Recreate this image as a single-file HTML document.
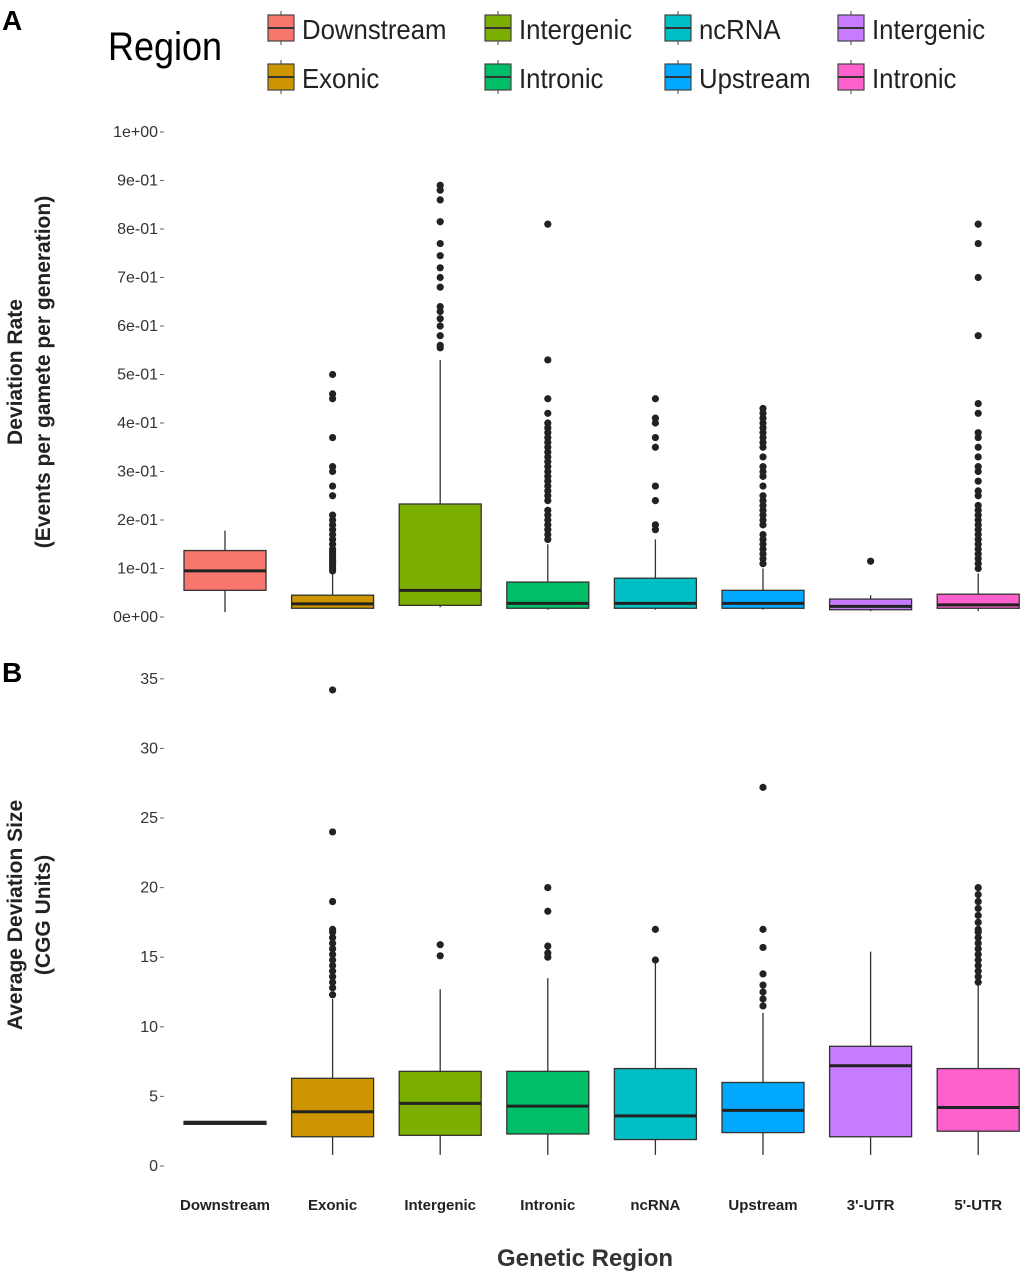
<!DOCTYPE html>
<html><head><meta charset="utf-8"><style>
body{margin:0;background:#fff;}
svg text{font-family:"Liberation Sans",sans-serif;}
</style></head><body>
<svg id="chart" width="1026" height="1280" xmlns="http://www.w3.org/2000/svg">
<text x="2" y="30" font-size="28" font-weight="bold">A</text>
<text x="2" y="682" font-size="28" font-weight="bold">B</text>
<text x="108" y="60" font-size="40" transform="translate(108,0) scale(0.9,1) translate(-108,0)">Region</text>
<g id="legend"></g>
<g id="panelA"></g>
<g id="panelB"></g>
<text transform="translate(22,372) rotate(-90)" text-anchor="middle" font-size="21" font-weight="bold" fill="#222">Deviation Rate</text>
<text transform="translate(50,372) rotate(-90)" text-anchor="middle" font-size="21" font-weight="bold" fill="#222">(Events per gamete per generation)</text>
<text transform="translate(22,915) rotate(-90)" text-anchor="middle" font-size="21" font-weight="bold" fill="#222">Average Deviation Size</text>
<text transform="translate(50,915) rotate(-90)" text-anchor="middle" font-size="21" font-weight="bold" fill="#222">(CGG Units)</text>
<text x="585" y="1266" text-anchor="middle" font-size="24" font-weight="bold" fill="#333">Genetic Region</text>
</svg>
<script>
const categories=["Downstream","Exonic","Intergenic","Intronic","ncRNA","Upstream","3'-UTR","5'-UTR"];
const colors=["#F8766D","#CD9600","#7CAE00","#00BE67","#00BFC4","#00A9FF","#C77CFF","#FF61CC"];
const legendLabels=["Downstream","Exonic","Intergenic","Intronic","ncRNA","Upstream","Intergenic","Intronic"];
// Panel A: [lo,q1,med,q3,hi]
const statsA=[[0.01,0.055,0.095,0.137,0.178],[0.018,0.018,0.027,0.045,0.09],[0.02,0.024,0.055,0.233,0.53],[0.015,0.018,0.028,0.072,0.15],[0.015,0.018,0.028,0.08,0.16],[0.015,0.018,0.028,0.055,0.10],[0.012,0.015,0.022,0.037,0.045],[0.012,0.018,0.025,0.047,0.09]];
const outA=[[],
[0.095,0.1,0.105,0.11,0.115,0.12,0.125,0.13,0.135,0.14,0.15,0.16,0.17,0.18,0.19,0.2,0.21,0.25,0.27,0.3,0.31,0.37,0.45,0.46,0.5],
[0.555,0.56,0.58,0.6,0.615,0.63,0.64,0.68,0.7,0.72,0.745,0.77,0.815,0.86,0.88,0.89],
[0.16,0.17,0.18,0.19,0.2,0.21,0.22,0.24,0.25,0.26,0.27,0.28,0.29,0.3,0.31,0.32,0.33,0.34,0.35,0.36,0.37,0.38,0.39,0.4,0.42,0.45,0.53,0.81],
[0.18,0.19,0.24,0.27,0.35,0.37,0.4,0.41,0.45],
[0.11,0.12,0.13,0.14,0.15,0.16,0.17,0.19,0.2,0.21,0.22,0.23,0.24,0.25,0.27,0.29,0.3,0.31,0.33,0.35,0.36,0.37,0.38,0.39,0.4,0.41,0.42,0.43],
[0.115],
[0.1,0.11,0.12,0.13,0.14,0.15,0.16,0.17,0.18,0.19,0.2,0.21,0.22,0.23,0.25,0.26,0.28,0.3,0.31,0.33,0.35,0.37,0.38,0.42,0.44,0.58,0.70,0.77,0.81]];
const ticksA=["0e+00","1e-01","2e-01","3e-01","4e-01","5e-01","6e-01","7e-01","8e-01","9e-01","1e+00"];
const tickValsA=[0,0.1,0.2,0.3,0.4,0.5,0.6,0.7,0.8,0.9,1.0];
// Panel B
const statsB=[[3.0,3.0,3.1,3.2,3.2],[0.8,2.1,3.9,6.3,12],[0.8,2.2,4.5,6.8,12.7],[0.8,2.3,4.3,6.8,13.5],[0.8,1.9,3.6,7.0,14.7],[0.8,2.4,4.0,6.0,11],[0.8,2.1,7.2,8.6,15.4],[0.8,2.5,4.2,7.0,13]];
const outB=[[],
[12.3,12.8,13.2,13.6,14,14.4,14.8,15.2,15.6,16,16.4,16.8,17,19,24,34.2],
[15.1,15.9],
[15,15.3,15.8,18.3,20],
[14.8,17],
[11.5,12,12.5,13,13.8,15.7,17,27.2],
[],
[13.2,13.6,14,14.4,14.8,15.2,15.6,16,16.4,16.8,17,17.5,18,18.5,19,19.5,20]];
const ticksB=["0","5","10","15","20","25","30","35"];
const tickValsB=[0,5,10,15,20,25,30,35];

const NS="http://www.w3.org/2000/svg";
function mk(t,a,p){const e=document.createElementNS(NS,t);for(const k in a)e.setAttribute(k,a[k]);p.appendChild(e);return e;}
const xPos=i=>225+i*107.6;
const BW=82;
function panel(g,stats,outs,ticks,tickVals,y){
  tickVals.forEach((v,i)=>{
    const t=mk('text',{x:158,y:y(v)+5,'text-anchor':'end','font-size':16,fill:'#333'},g);
    t.textContent=ticks[i]+'';
    
    
    mk('line',{x1:160,x2:164,y1:y(v),y2:y(v),stroke:'#666'},g);
  });
  stats.forEach((s,i)=>{
    const cx=xPos(i);
    const bg=mk('g',{},g);
    
    
    mk('line',{x1:cx,x2:cx,y1:y(s[0]),y2:y(s[4]),stroke:'#333','stroke-width':1.3},bg);
    const h=Math.max(3,y(s[1])-y(s[3]));
    mk('rect',{x:cx-BW/2,y:y(s[2])-Math.max(h/2,0)+(h>3?0:0),width:BW,height:h,fill:colors[i],stroke:'#333','stroke-width':1.3,transform:h>3?'translate(0,'+(y(s[3])-(y(s[2])-h/2))+')':''},bg);
    mk('line',{x1:cx-BW/2,x2:cx+BW/2,y1:y(s[2]),y2:y(s[2]),stroke:'#222','stroke-width':3},bg);
    outs[i].forEach(v=>{
      const c=mk('circle',{cx:cx,cy:y(v),r:3.6,fill:'#222'},bg);
      
      
    });
  });
}
const yA=v=>617-v*485;
const yB=v=>1166-v*69.6/5;
panel(document.getElementById('panelA'),statsA,outA,ticksA,tickValsA,yA);
panel(document.getElementById('panelB'),statsB,outB,ticksB,tickValsB,yB);
const pb=document.getElementById('panelB');
categories.forEach((c,i)=>{
  const t=mk('text',{x:xPos(i),y:1210,'text-anchor':'middle','font-size':15,'font-weight':'bold',fill:'#222'},pb);
  t.textContent=c;
  
  
});
const lg=document.getElementById('legend');
const lcols=[268,485,665,838];
legendLabels.forEach((l,i)=>{
  const col=Math.floor(i/2),row=i%2;
  const x=lcols[col],yy=row?64:15;
  const e=mk('g',{},lg);
  
  
  mk('line',{x1:x+13,x2:x+13,y1:yy-4,y2:yy+30,stroke:'#444'},e);
  mk('rect',{x:x,y:yy,width:26,height:26,fill:colors[i],stroke:'#444','stroke-width':1.2},e);
  mk('line',{x1:x,x2:x+26,y1:yy+13,y2:yy+13,stroke:'#333','stroke-width':2},e);
  const t=mk('text',{x:x+34,y:yy+24,'font-size':28,fill:'#222',transform:'translate('+(x+34)+',0) scale(0.92,1) translate('+(-(x+34))+',0)'},e);
  t.textContent=l;
});
</script>
</body></html>
